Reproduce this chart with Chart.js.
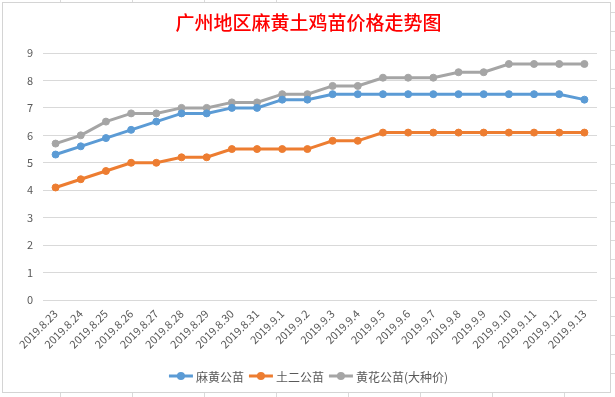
<!DOCTYPE html>
<html><head><meta charset="utf-8">
<script src="https://cdn.jsdelivr.net/npm/chart.js@4"></script>
<style>
html,body{margin:0;padding:0;background:#fff;width:615px;height:397px;overflow:hidden;position:relative;}
#box{position:absolute;left:2px;top:2px;width:607px;height:389px;border:1px solid #d4d4d4;background:#fff;}
canvas{display:block;}
.hl{position:absolute;height:1px;background:#dadada;}
.vl{position:absolute;width:1px;background:#dadada;}
</style></head>
<body>
<div class="vl" style="left:60px;top:0;height:2px"></div>
<div class="vl" style="left:132px;top:0;height:2px"></div>
<div class="vl" style="left:204px;top:0;height:2px"></div>
<div class="vl" style="left:276px;top:0;height:2px"></div>
<div class="vl" style="left:60px;top:393px;height:4px"></div>
<div class="vl" style="left:132px;top:393px;height:4px"></div>
<div class="vl" style="left:204px;top:393px;height:4px"></div>
<div class="vl" style="left:276px;top:393px;height:4px"></div>
<div class="vl" style="left:348px;top:393px;height:4px"></div>
<div class="vl" style="left:420px;top:393px;height:4px"></div>
<div class="vl" style="left:492px;top:393px;height:4px"></div>
<div class="vl" style="left:564px;top:393px;height:4px"></div>
<div class="hl" style="left:611px;top:12px;width:4px"></div>
<div class="hl" style="left:611px;top:31px;width:4px"></div>
<div class="hl" style="left:611px;top:50px;width:4px"></div>
<div class="hl" style="left:611px;top:69px;width:4px"></div>
<div class="hl" style="left:611px;top:88px;width:4px"></div>
<div class="hl" style="left:611px;top:107px;width:4px"></div>
<div class="hl" style="left:611px;top:126px;width:4px"></div>
<div class="hl" style="left:611px;top:145px;width:4px"></div>
<div class="hl" style="left:611px;top:164px;width:4px"></div>
<div class="hl" style="left:611px;top:183px;width:4px"></div>
<div class="hl" style="left:611px;top:202px;width:4px"></div>
<div class="hl" style="left:611px;top:221px;width:4px"></div>
<div class="hl" style="left:611px;top:240px;width:4px"></div>
<div class="hl" style="left:611px;top:259px;width:4px"></div>
<div class="hl" style="left:611px;top:278px;width:4px"></div>
<div class="hl" style="left:611px;top:297px;width:4px"></div>
<div class="hl" style="left:611px;top:316px;width:4px"></div>
<div class="hl" style="left:611px;top:335px;width:4px"></div>
<div class="hl" style="left:611px;top:354px;width:4px"></div>
<div class="hl" style="left:611px;top:373px;width:4px"></div>
<div id="box"><canvas id="c" width="607" height="389"></canvas></div>
<script>
const titleText = "广州地区麻黄土鸡苗价格走势图";
const categories = ["2019.8.23","2019.8.24","2019.8.25","2019.8.26","2019.8.27","2019.8.28","2019.8.29","2019.8.30","2019.8.31","2019.9.1","2019.9.2","2019.9.3","2019.9.4","2019.9.5","2019.9.6","2019.9.7","2019.9.8","2019.9.9","2019.9.10","2019.9.11","2019.9.12","2019.9.13"];
const seriesNames = ["麻黄公苗","土二公苗","黄花公苗(大种价)"];
const mahuang = [5.3,5.6,5.9,6.2,6.5,6.8,6.8,7.0,7.0,7.3,7.3,7.5,7.5,7.5,7.5,7.5,7.5,7.5,7.5,7.5,7.5,7.3];
const tuer = [4.1,4.4,4.7,5.0,5.0,5.2,5.2,5.5,5.5,5.5,5.5,5.8,5.8,6.1,6.1,6.1,6.1,6.1,6.1,6.1,6.1,6.1];
const huanghua = [5.7,6.0,6.5,6.8,6.8,7.0,7.0,7.2,7.2,7.5,7.5,7.8,7.8,8.1,8.1,8.1,8.3,8.3,8.6,8.6,8.6,8.6];
const yTicks = [0,1,2,3,4,5,6,7,8,9];
const colors = ["#5B9BD5","#ED7D31","#A5A5A5"];

const FONT = "'Noto Sans CJK SC', 'Noto Sans', sans-serif";

const titlePlugin = {
  id: 'customTitle',
  afterDraw(chart) {
    const ctx = chart.ctx;
    ctx.save();
    ctx.fillStyle = '#FF0000';
    ctx.font = "500 19px " + FONT;
    ctx.textAlign = 'center';
    ctx.textBaseline = 'middle';
    ctx.fillText(titleText, chart.width / 2 + 2, 20);
    ctx.restore();
  }
};

const legendPlugin = {
  id: 'customLegend',
  afterDraw(chart) {
    const ctx = chart.ctx;
    ctx.save();
    ctx.font = "12px " + FONT;
    ctx.textBaseline = 'middle';
    const y = 373;
    const markW = 24, gap = 3, itemGap = 5;
    const items = chart.data.datasets.map(d => ({label: d.label, color: d.borderColor, w: ctx.measureText(d.label).width}));
    let total = 0;
    items.forEach((it, i) => { total += markW + gap + it.w + (i < items.length - 1 ? itemGap : 0); });
    let x = chart.width / 2 - total / 2 + 2;
    items.forEach(it => {
      ctx.strokeStyle = it.color; ctx.lineWidth = 3;
      ctx.beginPath(); ctx.moveTo(x, y); ctx.lineTo(x + markW, y); ctx.stroke();
      ctx.fillStyle = it.color;
      ctx.beginPath(); ctx.arc(x + markW / 2, y, 4, 0, Math.PI * 2); ctx.fill();
      ctx.fillStyle = '#595959';
      ctx.fillText(it.label, x + markW + gap, y + 1);
      x += markW + gap + it.w + itemGap;
    });
    ctx.restore();
  }
};

const series = [mahuang, tuer, huanghua];
new Chart(document.getElementById('c'), {
  type: 'line',
  data: {
    labels: categories,
    datasets: series.map((s, i) => ({
      label: seriesNames[i],
      data: s,
      borderColor: colors[i],
      backgroundColor: colors[i],
      pointBackgroundColor: colors[i],
      pointBorderColor: colors[i],
      borderWidth: 3,
      pointRadius: 3.5,
      pointBorderWidth: 1,
      tension: 0
    }))
  },
  options: {
    responsive: false,
    animation: false,
    layout: { padding: { left: 0, right: 13, top: 50, bottom: 0 } },
    plugins: { legend: { display: false }, title: { display: false }, tooltip: { enabled: false } },
    scales: {
      x: {
        offset: true,
        grid: { display: false, drawTicks: false },
        border: { display: false },
        ticks: {
          minRotation: 45, maxRotation: 45, autoSkip: false,
          color: '#595959', font: { size: 11, family: FONT }, padding: 7
        },
        afterFit(scale) { scale.height = 92; }
      },
      y: {
        min: 0, max: 9,
        afterBuildTicks(scale) { scale.ticks = yTicks.map(v => ({ value: v })); },
        grid: { color: '#D9D9D9', lineWidth: 1, drawTicks: false },
        border: { display: false },
        ticks: { color: '#595959', font: { size: 11, family: FONT }, padding: 10 },
        afterFit(scale) { scale.width = 40; }
      }
    }
  },
  plugins: [titlePlugin, legendPlugin]
});
</script>
</body></html>
